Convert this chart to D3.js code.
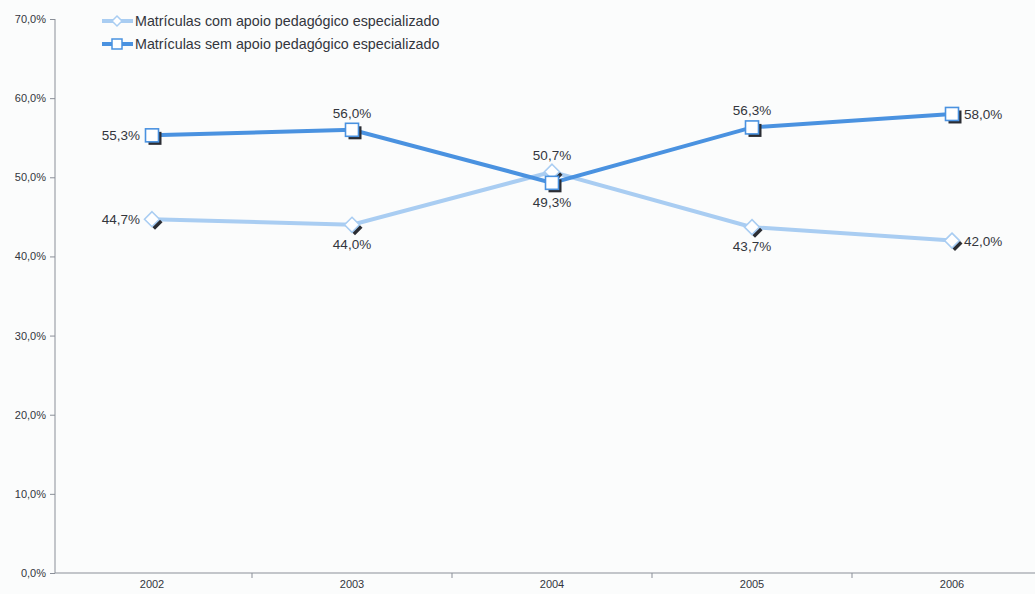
<!DOCTYPE html>
<html><head><meta charset="utf-8">
<script src="https://cdn.jsdelivr.net/npm/d3@7"></script>
<style>body{margin:0;background:#fbfcfc}svg{display:block}</style>
</head><body>
<svg id="c" width="1035" height="594"></svg>
<script>
const categories = ["2002","2003","2004","2005","2006"];
const seriesNames = ["Matrículas com apoio pedagógico especializado","Matrículas sem apoio pedagógico especializado"];
const comApoio = [44.7, 44.0, 50.7, 43.7, 42.0];
const semApoio = [55.3, 56.0, 49.3, 56.3, 58.0];
const yTicks = [0,10,20,30,40,50,60,70];
// label placement per point: l=left, r=right, t=top, b=bottom
const comPos = ["l","b","t","b","r"];
const semPos = ["l","t","b","t","r"];

const svg = d3.select("#c");
const x = d3.scaleBand().domain(categories).range([52,1052]);
const y = d3.scaleLinear().domain([0,70]).range([573,19]);
const fmt = v => v.toFixed(1).replace(".",",") + "%";
const axisCol = "#8a8f98";
const textCol = "#33363d";

// y axis
const ya = svg.append("g").attr("transform","translate(55,0)")
  .call(d3.axisLeft(y).tickValues(yTicks).tickSize(5).tickFormat(fmt));
ya.select(".domain").attr("stroke",axisCol).attr("d","M0,19V573");
ya.selectAll(".tick line").attr("stroke",axisCol);
ya.selectAll(".tick text").attr("fill",textCol).style("font-family","Liberation Sans, Arial").style("font-size","11px").attr("x",-9);

// x axis
const xa = svg.append("g").attr("transform","translate(0,573)")
  .call(d3.axisBottom(x).tickSize(0));
xa.select(".domain").attr("stroke",axisCol).attr("d","M55,0H1035");
xa.selectAll(".tick text").attr("fill",textCol).style("font-family","Liberation Sans, Arial").style("font-size","11px").attr("dy","1.1em");
// tick marks between categories
svg.append("g").selectAll("line").data(categories.slice(1)).join("line")
  .attr("x1",d=>x(d)).attr("x2",d=>x(d)).attr("y1",573).attr("y2",578).attr("stroke",axisCol);

const cx = d => x(d) + x.bandwidth()/2;
const line = d3.line().x((d,i)=>cx(categories[i])).y(d=>y(d));

const series = [
  {name: seriesNames[0], values: comApoio, pos: comPos, color:"#a9cdf2", shape:"diamond"},
  {name: seriesNames[1], values: semApoio, pos: semPos, color:"#4a92e0", shape:"square"}
];

function marker(g, shape, color, px, py, s){
  if(shape==="square"){
    g.append("rect").attr("x",px-s/2+3).attr("y",py-s/2+3).attr("width",s).attr("height",s).attr("fill","#2b2d33");
    g.append("rect").attr("x",px-s/2).attr("y",py-s/2).attr("width",s).attr("height",s).attr("fill","#fff").attr("stroke",color).attr("stroke-width",1.6);
  } else {
    const r = s/2;
    const pts = (ox,oy)=>[[px+ox,py-r+oy],[px+r+ox,py+oy],[px+ox,py+r+oy],[px-r+ox,py+oy]].map(p=>p.join(",")).join(" ");
    g.append("polygon").attr("points",pts(3,3)).attr("fill","#2b2d33");
    g.append("polygon").attr("points",pts(0,0)).attr("fill","#fff").attr("stroke",color).attr("stroke-width",1.6);
  }
}

series.forEach(s=>{
  svg.append("path").datum(s.values).attr("d",line).attr("fill","none").attr("stroke",s.color).attr("stroke-width",4);
});
series.forEach(s=>{
  const g = svg.append("g");
  s.values.forEach((v,i)=>{
    const px = cx(categories[i]), py = y(v);
    marker(g, s.shape, s.color, px, py, s.shape==="square"?13:15);
    const p = s.pos[i];
    const t = g.append("text").text(fmt(v)).attr("fill",textCol)
      .style("font-family","Liberation Sans, Arial").style("font-size","13.5px");
    if(p==="l") t.attr("x",px-12).attr("y",py+5).attr("text-anchor","end");
    if(p==="r") t.attr("x",px+12).attr("y",py+5).attr("text-anchor","start");
    if(p==="t") t.attr("x",px).attr("y",py-12).attr("text-anchor","middle");
    if(p==="b") t.attr("x",px).attr("y",py+24).attr("text-anchor","middle");
  });
});

// legend
const lg = svg.append("g");
series.forEach((s,i)=>{
  const ly = 21 + i*23;
  lg.append("line").attr("x1",102).attr("x2",133).attr("y1",ly).attr("y2",ly).attr("stroke",s.color).attr("stroke-width",4);
  if(s.shape==="square")
    lg.append("rect").attr("x",112).attr("y",ly-5).attr("width",10).attr("height",10).attr("fill","#fff").attr("stroke",s.color).attr("stroke-width",1.5);
  else
    lg.append("polygon").attr("points",[[117,ly-5],[122,ly],[117,ly+5],[112,ly]].map(p=>p.join(",")).join(" ")).attr("fill","#fff").attr("stroke",s.color).attr("stroke-width",1.5);
  lg.append("text").attr("x",135).attr("y",ly+5).text(s.name).attr("fill",textCol)
    .style("font-family","Liberation Sans, Arial").style("font-size","14.3px");
});
</script>
</body></html>
